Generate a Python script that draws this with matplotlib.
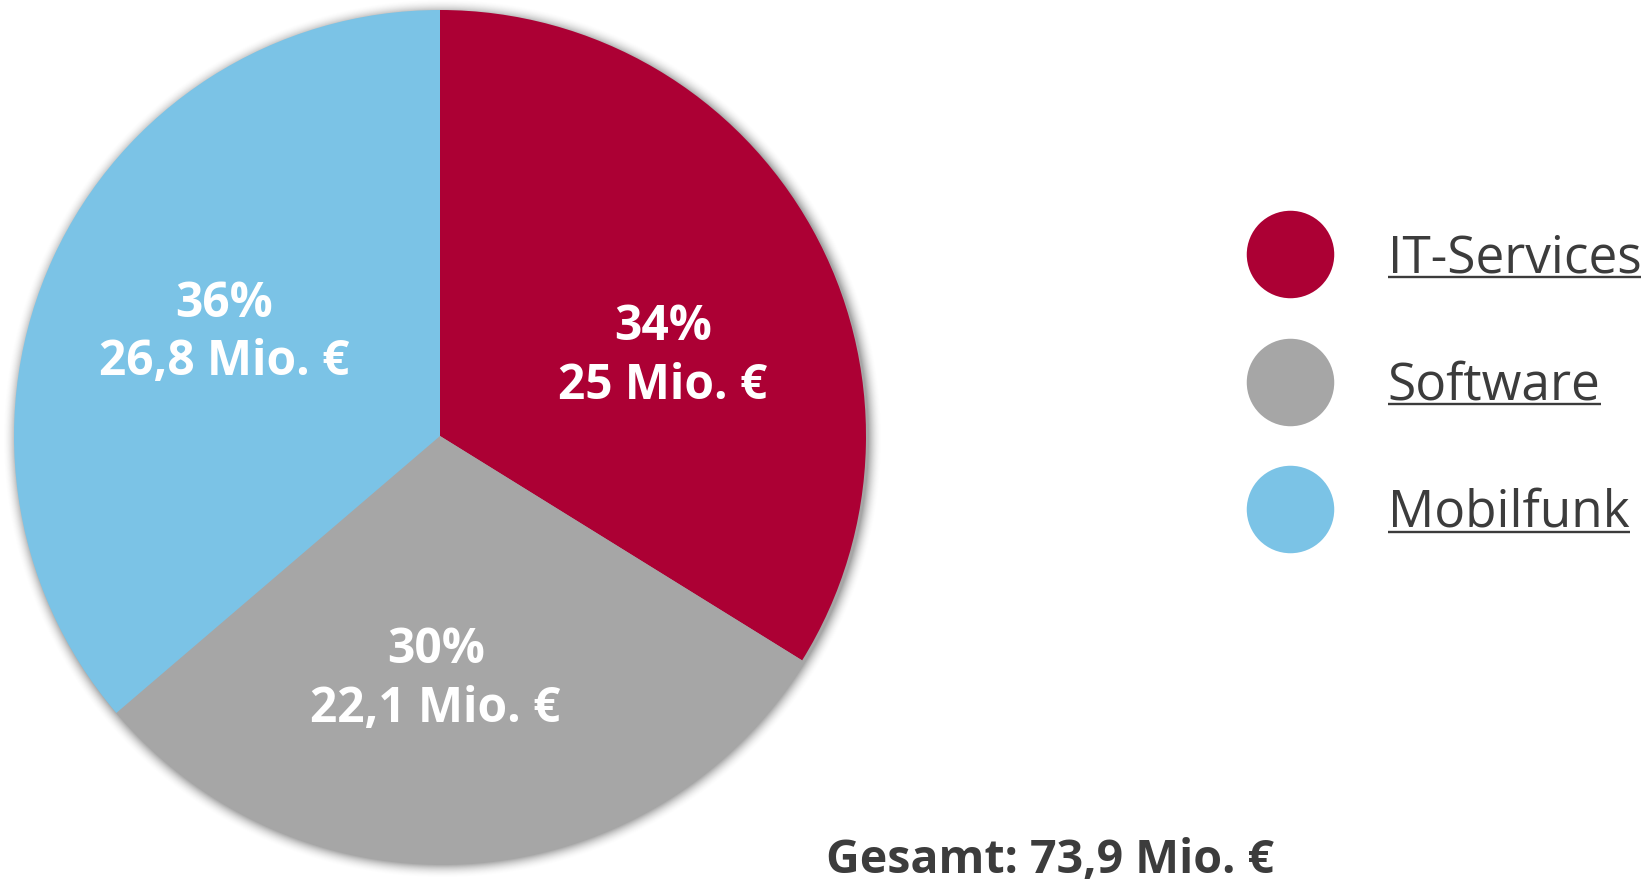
import numpy as np
import matplotlib.pyplot as plt
from matplotlib.lines import Line2D

plt.rcParams['font.family'] = ['Open Sans', 'DejaVu Sans']

categories = ['IT-Services', 'Software', 'Mobilfunk']
values = [25.0, 22.1, 26.8]          # Mio. €
colors = ['#AC0034', '#A6A6A6', '#7BC3E6']
total = 73.9
text_color = '#3C3C3C'


def de_num(v):
    s = ('%.1f' % v).replace('.', ',')
    return s[:-2] if s.endswith(',0') else s


W, H = 1650, 882
fig = plt.figure(figsize=(W / 100, H / 100), dpi=100)
ax = fig.add_axes([0, 0, 1, 1])

cx, cy, r = 440, 446, 426

# soft drop shadow behind the pie
yy, xx = np.mgrid[0:H, 0:W]
d = np.hypot(xx - (cx + 2), yy - (cy - 3)) - r
a = np.clip(1 - d / 14, 0, 1) ** 2 * 0.5
shadow = np.zeros((H, W, 4))
shadow[..., :3] = 0.3
shadow[..., 3] = a
ax.imshow(shadow, extent=(0, W, 0, H), origin='lower', zorder=0)

wedges, _ = ax.pie(values, colors=colors, startangle=90, counterclock=False,
                   center=(cx, cy), radius=r, wedgeprops=dict(linewidth=0))
for w in wedges:
    w.set_zorder(2)

# labels inside the slices (angle shift from mid-angle, radial distance)
shift = [-9.6, -5.4, -0.6]
dist = [0.555, 0.573, 0.561]
for i, w in enumerate(wedges):
    mid = np.deg2rad((w.theta1 + w.theta2) / 2 + shift[i])
    pct = round(values[i] / total * 100)
    ax.text(cx + dist[i] * r * np.cos(mid), cy + dist[i] * r * np.sin(mid),
            '%d%%\n%s Mio. €' % (pct, de_num(values[i])),
            ha='center', va='center', multialignment='center',
            color='white', fontsize=34.5, fontweight='bold', linespacing=1.25,
            zorder=3)

ax.text(826, H - 873, 'Gesamt: %s Mio. €' % de_num(total), ha='left',
        va='baseline', color=text_color, fontsize=33.5, fontweight='bold')

handles = [Line2D([], [], marker='o', ls='', markersize=63,
                  markerfacecolor=c, markeredgewidth=0) for c in colors]
leg = ax.legend(handles, categories, loc='center left',
                bbox_to_anchor=(1246 / W, 1 - 386 / H), frameon=False,
                fontsize=37, handlelength=1.73, handletextpad=1.03,
                labelspacing=1.48, borderpad=0, borderaxespad=0,
                labelcolor=text_color)

ax.set_xlim(0, W)
ax.set_ylim(0, H)
ax.set_aspect('equal')
ax.axis('off')

# underline the legend labels
fig.canvas.draw()
for t in leg.get_texts():
    bb = t.get_window_extent()
    ax.plot([bb.x0, bb.x1], [bb.y0 + 7, bb.y0 + 7], color=text_color, lw=1.7,
            solid_capstyle='butt')

fig.savefig('out.png', dpi=100)
